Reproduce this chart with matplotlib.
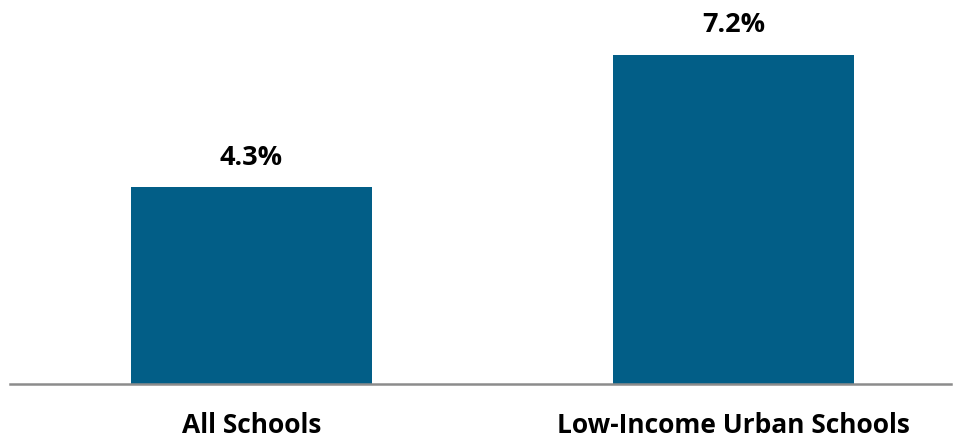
import matplotlib
matplotlib.use("Agg")
import matplotlib.pyplot as plt

categories = ["All Schools", "Low-Income Urban Schools"]
values = [4.3, 7.2]
labels = ["4.3%", "7.2%"]

W, H = 961, 440
fig = plt.figure(figsize=(W/100, H/100), dpi=100)
ax_left, ax_right = 10, 951
ax_bottom = 384
ax = fig.add_axes([ax_left/W, (H-ax_bottom)/H, (ax_right-ax_left)/W, ax_bottom/H])

x = list(range(len(categories)))
ax.bar(x, values, width=0.5, color="#025E87", zorder=2)
ax.set_xlim(-0.501, 1.451)
ax.set_ylim(0, ax_bottom/45.7)

font = "Open Sans"
for xi, v, lab in zip(x, values, labels):
    ax.annotate(lab, (xi, v), xytext=(0, 12), textcoords="offset points",
                ha="center", va="bottom", fontsize=19.5, fontweight="bold",
                family=font, color="black")

ax.set_xticks(x)
ax.set_xticklabels(categories, fontsize=19, fontweight="bold", family=font, color="black")
ax.tick_params(axis="x", length=0, pad=20)
ax.set_yticks([])
for s in ["top", "right", "left"]:
    ax.spines[s].set_visible(False)
ax.spines["bottom"].set_color("#8c8c8c")
ax.spines["bottom"].set_linewidth(1.8)

fig.savefig("out.png", dpi=100)
